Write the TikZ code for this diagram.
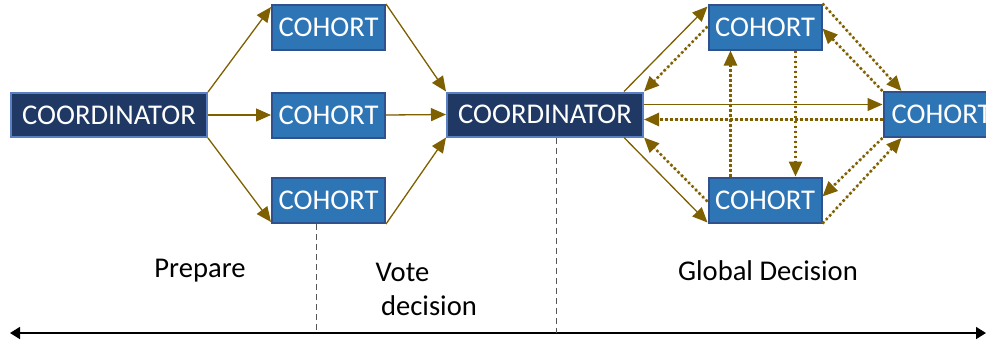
\documentclass[tikz,border=0pt]{standalone}
\usepackage{fontspec}
\setmainfont{Carlito}
\usetikzlibrary{arrows.meta,calc}
\definecolor{navy}{HTML}{1F3864}
\definecolor{navyedge}{HTML}{5A7FC2}
\definecolor{cohortfill}{HTML}{2E75B6}
\definecolor{cohortedge}{HTML}{2F528F}
\definecolor{flow}{HTML}{7F6000}
\definecolor{guide}{HTML}{555555}
\tikzset{
  boxtext/.style={text=white,font=\fontsize{14.3}{17}\selectfont,inner sep=0pt},
  coordbox/.style={boxtext,draw=navyedge,fill=navy,line width=1pt,minimum width=98pt,minimum height=22pt},
  cohortbox/.style={boxtext,draw=cohortedge,fill=cohortfill,line width=1pt,minimum width=56.5pt,minimum height=22.5pt},
  label/.style={font=\fontsize{14.3}{17}\selectfont,inner sep=0pt},
  sol/.style={draw=flow,line width=0.65pt,-{Triangle[length=7.5pt,width=6.5pt]},fill=flow},
  dot/.style={draw=flow,line width=1.3pt,dash pattern=on 1.2pt off 1.3pt,-{Triangle[length=7.5pt,width=6.5pt]},fill=flow},
  guideline/.style={draw=guide,line width=0.5pt,dash pattern=on 3pt off 2pt},
  timeline/.style={draw=black,line width=0.8pt,{Triangle[length=5pt,width=6pt]}-{Triangle[length=5pt,width=6pt]}}
}
\begin{document}
\begin{tikzpicture}[x=0.5pt,y=-0.5pt]
\clip (0,0) rectangle (986,345);

% prepare phase
\node[coordbox] (co1) at (109,115) {COORDINATOR};
\node[cohortbox] (A) at (328.5,27.5) {COHORT};
\node[cohortbox] (B) at (328.5,115) {COHORT};
\node[cohortbox] (C) at (328.5,200.5) {COHORT};

% decision phase
\node[coordbox,minimum width=98pt] (co2) at (545,114.5) {COORDINATOR};
\node[cohortbox] (D) at (765,27) {COHORT};
\node[cohortbox] (E) at (765,200) {COHORT};
\node[cohortbox,minimum width=58pt] (F) at (941.5,114.5) {COHORT};

% requests and votes
\draw[sol] (co1.north east) -- ($(A.north west)+(0,3)$);
\draw[sol] (co1.east) -- (B.west);
\draw[sol] (co1.south east) -- ($(C.south west)+(0,-2)$);
\draw[sol] (A.north east) -- (co2.north west);
\draw[sol] (B.east) -- (co2.west);
\draw[sol] (C.south east) -- (co2.south west);

% global decision exchange
\draw[sol] ($(co2.north east)+(-20,0)$) -- ($(D.north west)+(0,3)$);
\draw[dot] ($(D.north west)+(0,23)$) -- (co2.north east);
\draw[sol] ($(co2.south east)+(-20,0)$) -- ($(E.south west)+(0,-1)$);
\draw[dot] ($(E.south west)+(0,-22)$) -- (co2.south east);
\draw[sol] ($(co2.east)+(0,-10)$) -- ($(F.west)+(0,-10)$);
\draw[dot] ($(F.west)+(0,5)$) -- ($(co2.east)+(0,5)$);
\draw[dot] ($(E.north west)+(23,0)$) -- ($(D.south west)+(23,0)$);
\draw[dot] ($(D.south west)+(88,0)$) -- ($(E.north west)+(88,0)$);
\draw[dot] (D.north east) -- ($(F.north west)+(19,0)$);
\draw[dot] (F.north west) -- ($(D.north east)+(0,25)$);
\draw[dot] (F.south west) -- ($(E.south east)+(0,-27)$);
\draw[dot] (E.south east) -- ($(F.south west)+(19,0)$);

% time line and phase boundaries
\coordinate (tl) at (10,333);
\coordinate (tr) at (986,333);
\draw[timeline] (tl) -- (tr);
\coordinate (d1) at ($(C.south)+(-12.5,0)$);
\coordinate (d2) at ($(co2.south)+(11,0)$);
\draw[guideline] (d1) -- (d1 |- tl);
\draw[guideline] (d2) -- (d2 |- tl);

% phase names
\node[label] (p1) at (200,271) {Prepare};
\node[label] (p2) at (402.5,272) {Vote};
\node[label] (p3) at (429,306) {decision};
\node[label] (p4) at (768,271) {Global Decision};
\end{tikzpicture}
\end{document}
